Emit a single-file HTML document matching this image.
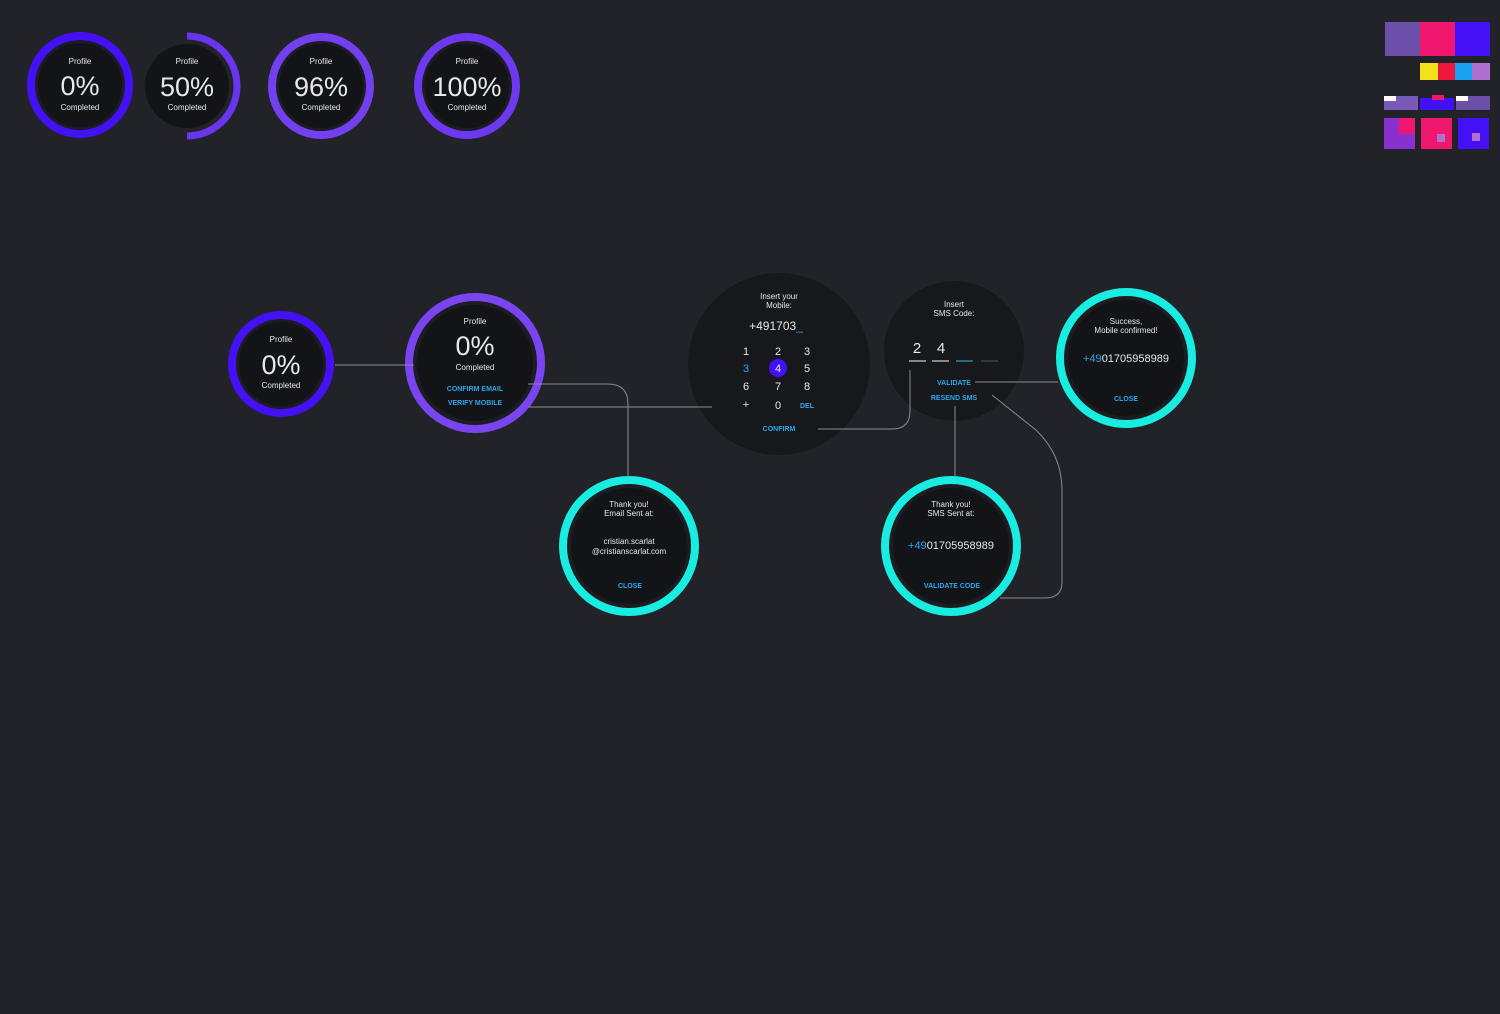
<!DOCTYPE html>
<html><head><meta charset="utf-8"><style>
html,body{margin:0;padding:0;background:#222329;}
svg{display:block;}
text{font-family:"Liberation Sans",sans-serif;fill:#e8e8e8;text-anchor:middle;}
.s{font-size:8px;}
.b{font-size:7px;fill:#2aa7ee;font-weight:bold;}
.big{font-size:27px;font-weight:300;}
.k{font-size:11px;}
</style></head><body>
<svg width="1500" height="1014" viewBox="0 0 1500 1014" xmlns="http://www.w3.org/2000/svg">
<rect width="1500" height="1014" fill="#222329"/>
<!-- top row -->
<circle cx="80" cy="85" r="49" fill="#1c1d22" stroke="#4410f5" stroke-width="8"/>
<circle cx="80" cy="85" r="42" fill="#131417"/>
<text x="80" y="64" class="s">Profile</text><text x="80" y="95" class="big">0%</text><text x="80" y="110" class="s">Completed</text>

<circle cx="187" cy="86" r="42" fill="#131417"/>
<path d="M187 36 A50 50 0 0 1 187 136" fill="none" stroke="#6a35f0" stroke-width="7"/>
<text x="187" y="64" class="s">Profile</text><text x="187" y="96" class="big">50%</text><text x="187" y="110" class="s">Completed</text>

<circle cx="321" cy="86" r="49" fill="#1c1d22" stroke="#7240ee" stroke-width="8"/>
<circle cx="321" cy="86" r="42" fill="#131417"/>
<text x="321" y="64" class="s">Profile</text><text x="321" y="96" class="big">96%</text><text x="321" y="110" class="s">Completed</text>

<circle cx="467" cy="86" r="49" fill="#1c1d22" stroke="#6c38f0" stroke-width="8"/>
<circle cx="467" cy="86" r="42" fill="#131417"/>
<text x="467" y="64" class="s">Profile</text><text x="467" y="96" class="big">100%</text><text x="467" y="110" class="s">Completed</text>

<!-- swatches -->
<rect x="1385" y="22" width="35" height="34" fill="#6b4fa8"/>
<rect x="1420" y="22" width="35" height="34" fill="#f0186e"/>
<rect x="1455" y="22" width="35" height="34" fill="#4410f5"/>
<rect x="1420" y="63" width="18" height="17" fill="#f2e21a"/>
<rect x="1438" y="63" width="17" height="17" fill="#f0183e"/>
<rect x="1455" y="63" width="17" height="17" fill="#1aa0f0"/>
<rect x="1472" y="63" width="18" height="17" fill="#b070d0"/>
<rect x="1384" y="96" width="34" height="14" fill="#7a5ab8"/><rect x="1384" y="96" width="12" height="5" fill="#fff"/>
<rect x="1420" y="98" width="34" height="12" fill="#4410f5"/><rect x="1432" y="95" width="12" height="5" fill="#f0186e"/>
<rect x="1456" y="96" width="34" height="14" fill="#6b4fa8"/><rect x="1456" y="96" width="12" height="5" fill="#fff"/>
<rect x="1384" y="118" width="31" height="31" fill="#8a30d0"/><rect x="1399" y="118" width="16" height="16" fill="#f0186e"/>
<rect x="1421" y="118" width="31" height="31" fill="#f0186e"/><rect x="1437" y="134" width="8" height="8" fill="#b070d0"/>
<rect x="1458" y="118" width="31" height="31" fill="#4410f5"/><rect x="1472" y="133" width="8" height="8" fill="#b070d0"/>

<!-- flow circle 1 -->
<circle cx="281" cy="364" r="49" fill="#1c1d22" stroke="#4410f5" stroke-width="8"/>
<circle cx="281" cy="364" r="42" fill="#131417"/>
<text x="281" y="342" class="s">Profile</text><text x="281" y="374" class="big">0%</text><text x="281" y="388" class="s">Completed</text>

<!-- flow circle 2 -->
<circle cx="475" cy="363" r="66" fill="#1c1d22" stroke="#7a45f0" stroke-width="8"/>
<circle cx="475" cy="363" r="58" fill="#131417"/>
<text x="475" y="324" class="s">Profile</text><text x="475" y="355" class="big">0%</text><text x="475" y="370" class="s">Completed</text>
<text x="475" y="391" class="b">CONFIRM EMAIL</text><text x="475" y="405" class="b">VERIFY MOBILE</text>

<!-- keypad -->
<circle cx="779" cy="364" r="91" fill="#17181b"/>
<text x="779" y="299" class="s">Insert your</text><text x="779" y="308" class="s">Mobile:</text>
<text x="776" y="330" font-size="12">+491703<tspan fill="#2aa7ee">_</tspan></text>
<text x="746" y="355" class="k">1</text><text x="778" y="355" class="k">2</text><text x="807" y="355" class="k">3</text>
<text x="746" y="372" class="k" style="fill:#2aa7ee">3</text>
<circle cx="778" cy="368" r="9" fill="#4410f5"/><text x="778" y="372" class="k">4</text>
<text x="807" y="372" class="k">5</text>
<text x="746" y="390" class="k">6</text><text x="778" y="390" class="k">7</text><text x="807" y="390" class="k">8</text>
<text x="746" y="408" class="k">+</text><text x="778" y="409" class="k">0</text><text x="807" y="408" class="b">DEL</text>
<text x="779" y="431" class="b">CONFIRM</text>

<!-- sms code -->
<circle cx="954" cy="351" r="70" fill="#17181b"/>
<text x="954" y="307" class="s">Insert</text><text x="954" y="316" class="s">SMS Code:</text>
<text x="917" y="353" font-size="15">2</text><text x="941" y="353" font-size="15">4</text>
<g stroke-width="1.5"><path d="M909 361 H926" stroke="#aaa"/><path d="M932 361 H949" stroke="#aaa"/><path d="M956 361 H973" stroke="#2a7fb8"/><path d="M981 361 H998" stroke="#2a4a4a"/></g>
<text x="954" y="385" class="b">VALIDATE</text><text x="954" y="400" class="b">RESEND SMS</text>

<!-- success -->
<circle cx="1126" cy="358" r="66" fill="#1c1d22" stroke="#19ece0" stroke-width="8"/>
<circle cx="1126" cy="358" r="58" fill="#131417"/>
<text x="1126" y="324" class="s">Success,</text><text x="1126" y="333" class="s">Mobile confirmed!</text>
<text x="1126" y="362" font-size="11"><tspan fill="#2aa7ee">+49</tspan>01705958989</text>
<text x="1126" y="401" class="b">CLOSE</text>

<!-- email sent -->
<circle cx="629" cy="546" r="66" fill="#1c1d22" stroke="#19ece0" stroke-width="8"/>
<circle cx="629" cy="546" r="58" fill="#131417"/>
<text x="629" y="507" class="s">Thank you!</text><text x="629" y="516" class="s">Email Sent at:</text>
<text x="629" y="544" class="s">cristian.scarlat</text><text x="629" y="554" class="s">@cristianscarlat.com</text>
<text x="630" y="588" class="b">CLOSE</text>

<!-- sms sent -->
<circle cx="951" cy="546" r="66" fill="#1c1d22" stroke="#19ece0" stroke-width="8"/>
<circle cx="951" cy="546" r="58" fill="#131417"/>
<text x="951" y="507" class="s">Thank you!</text><text x="951" y="516" class="s">SMS Sent at:</text>
<text x="951" y="549" font-size="11"><tspan fill="#2aa7ee">+49</tspan>01705958989</text>
<text x="952" y="588" class="b">VALIDATE CODE</text>

<!-- connectors (on top) -->
<g fill="none" stroke="#8a8c93" stroke-width="1">
<path d="M335 365 H414"/>
<path d="M528 384 H608 Q628 384 628 404 V477"/>
<path d="M528 407 H712"/>
<path d="M818 429 H892 Q910 429 910 411 V370"/>
<path d="M975 382 H1058"/>
<path d="M955 406 V476"/>
<path d="M992 395 L1036 430 Q1062 455 1062 490 V582 Q1062 598 1045 598 H1000"/>
</g>
</svg>
</body></html>
